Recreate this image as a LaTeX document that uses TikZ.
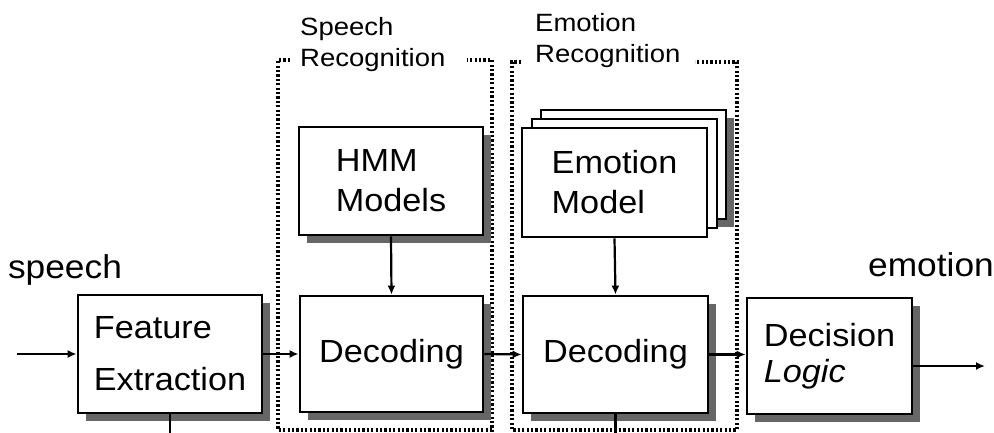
\documentclass[tikz,border=0pt]{standalone}
\usepackage{fontspec}
\setmainfont[FakeStretch=1.07]{Liberation Sans}
\newfontfamily\grpfont[FakeStretch=1.1]{Liberation Sans}
\usetikzlibrary{arrows.meta,shadows}
\begin{document}
\begin{tikzpicture}[x=1pt,y=-1pt,
  box/.style={draw,line width=2.8pt,fill=white,inner sep=0pt,align=left,
    font=\fontsize{32}{40}\selectfont},
  shd/.style={drop shadow={shadow xshift=8pt,shadow yshift=-8pt,fill=black!60,opacity=1}},
  grp/.style={line width=3.2pt,dash pattern=on 2.2pt off 2.2pt},
  grplabel/.style={font=\grpfont\fontsize{25}{31.5}\selectfont,align=left,anchor=base west,inner sep=0pt},
  conn/.style={line width=2.2pt,-{Latex[length=9pt,width=8pt]}},
  plain/.style={line width=2.2pt},
  io/.style={font=\fontsize{33}{40}\selectfont,inner sep=0pt}
]
\useasboundingbox (0,0) rectangle (994,433);

% group boxes
\draw[grp] (290,60) -- (278,60) -- (278,430) -- (492,430) -- (492,60) -- (467,60);
\draw[grp] (521,62) -- (512,62) -- (512,430) -- (737,430) -- (737,62) -- (695,62);
\node[grplabel] (lsr) at (300,67) {Speech\\Recognition};
\node[grplabel] (ler) at (535,63) {Emotion\\Recognition};

% boxes
\node[box,shd,minimum width=184pt,minimum height=118pt,font=\fontsize{32}{52}\selectfont] (fe) at (170,354) {Feature\\Extraction};
\node[box,shd,minimum width=184pt,minimum height=108pt] (hmm) at (391,181) {HMM\\Models};
\node[box,shd,minimum width=183pt,minimum height=116pt] (dec1) at (391.5,354) {Decoding};
\node[box,
  drop shadow={shadow xshift=27pt,shadow yshift=10pt,fill=black!60,opacity=1},
  copy shadow={shadow xshift=19pt,shadow yshift=18pt},
  copy shadow={shadow xshift=10pt,shadow yshift=9pt},
  minimum width=185pt,minimum height=109pt] (em) at (614.5,182.5) {Emotion\\Model};
\node[box,shd,minimum width=185pt,minimum height=117pt] (dec2) at (615.5,354.5) {Decoding};
\node[box,shd,minimum width=165pt,minimum height=116pt,font=\fontsize{32}{36}\selectfont] (dl) at (829.5,356) {Decision\\\itshape Logic};

% io labels
\node[io] (lspeech) at (65,270) {speech};
\node[io] (lemotion) at (931,265) {emotion};

% connectors
\coordinate (in) at (17,354);
\coordinate (out) at (985,366);
\draw[conn] (in) -- (fe.west);
\draw[conn] (fe.east) -- (dec1.west);
\draw[conn] (hmm.south) -- (dec1.north);
\draw[conn] (dec1.east) -- (dec2.west);
\draw[conn] (em.south) -- (dec2.north);
\draw[conn] (dec2.east) -- (dec2.east -| dl.west);
\draw[conn] (dl.east |- out) -- (out);
\draw[plain] (fe.south) -- ++(0,25);
\draw[plain] (dec2.south) -- ++(0,25);
\end{tikzpicture}
\end{document}
